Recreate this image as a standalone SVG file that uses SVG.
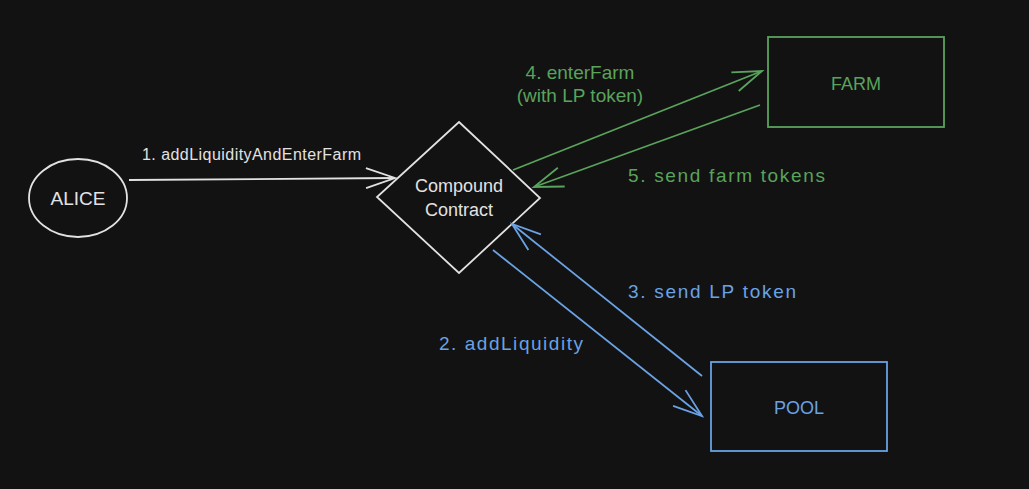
<svg xmlns="http://www.w3.org/2000/svg" width="1029" height="489" viewBox="0 0 1029 489">
<defs>
<style>
.w{stroke:#e2e2e2;fill:none;stroke-width:1.8}
.g{stroke:#5aa35c;fill:none;stroke-width:1.8}
.b{stroke:#6aa2e4;fill:none;stroke-width:1.8}
text{font-family:"Liberation Sans",Arial,sans-serif;}
.tw{fill:#e2e2e2}
.tg{fill:#5aa35c}
.tb{fill:#6aa2e4}
</style>
<marker id="mw" markerUnits="userSpaceOnUse" markerWidth="40" markerHeight="30" refX="30" refY="15" orient="auto" overflow="visible"><path d="M1,5 L30,15 L1,25" fill="none" stroke="#e2e2e2" stroke-width="1.8"/></marker>
<marker id="mg" markerUnits="userSpaceOnUse" markerWidth="40" markerHeight="30" refX="30" refY="15" orient="auto" overflow="visible"><path d="M1,5 L30,15 L1,25" fill="none" stroke="#5aa35c" stroke-width="1.8"/></marker>
<marker id="mb" markerUnits="userSpaceOnUse" markerWidth="40" markerHeight="30" refX="30" refY="15" orient="auto" overflow="visible"><path d="M1,5 L30,15 L1,25" fill="none" stroke="#6aa2e4" stroke-width="1.8"/></marker>
</defs>
<rect width="1029" height="489" fill="#121212"/>
<g id="alice">
<ellipse cx="78" cy="198" rx="49" ry="39" class="w"/>
<text x="78" y="205" font-size="19" text-anchor="middle" class="tw">ALICE</text>
</g>
<g id="compound">
<path d="M459,122 L540,198 L459,273 L377,197 Z" class="w"/>
<text x="459" y="192" font-size="18" text-anchor="middle" class="tw">Compound</text>
<text x="459" y="216" font-size="18" text-anchor="middle" class="tw">Contract</text>
</g>
<g id="farm">
<rect x="768" y="37" width="176" height="90" class="g"/>
<text x="856" y="90" font-size="18" text-anchor="middle" class="tg">FARM</text>
</g>
<g id="pool">
<rect x="711" y="362" width="176" height="89" class="b"/>
<text x="799" y="414" font-size="18" text-anchor="middle" class="tb">POOL</text>
</g>
<g id="connectors">
<path d="M129,180 L395,178" class="w" marker-end="url(#mw)"/>
<path d="M513,170 L762,71" class="g" marker-end="url(#mg)"/>
<path d="M760,105 L534,187" class="g" marker-end="url(#mg)"/>
<path d="M493,250 L702,416" class="b" marker-end="url(#mb)"/>
<path d="M702,376 L512,224" class="b" marker-end="url(#mb)"/>
</g>
<g id="labels">
<text x="142" y="160" font-size="16" class="tw" textLength="219">1. addLiquidityAndEnterFarm</text>
<text x="580" y="79" font-size="19" text-anchor="middle" class="tg">4. enterFarm</text>
<text x="580" y="102" font-size="19" text-anchor="middle" class="tg">(with LP token)</text>
<text x="628" y="182" font-size="19" class="tg" textLength="197">5. send farm tokens</text>
<text x="628" y="298" font-size="19" class="tb" textLength="168">3. send LP token</text>
<text x="439" y="350" font-size="19" class="tb" textLength="144">2. addLiquidity</text>
</g>
</svg>
